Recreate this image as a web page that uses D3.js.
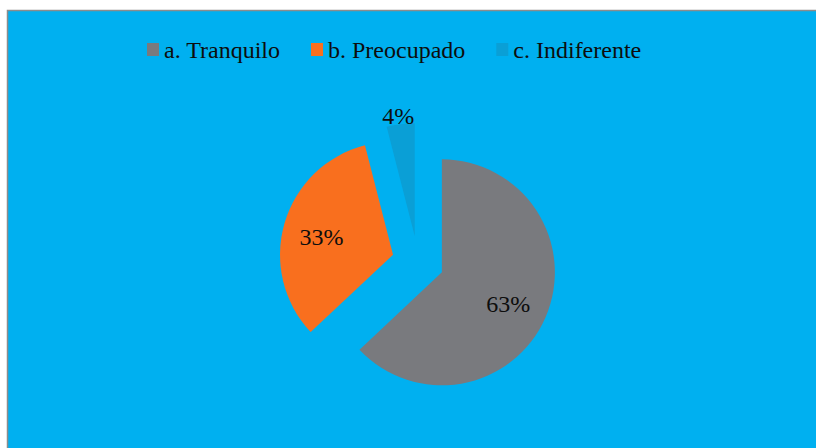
<!DOCTYPE html>
<html>
<head>
<meta charset="utf-8">
<script src="https://cdn.jsdelivr.net/npm/d3@7"></script>
<style>
  html, body { margin: 0; padding: 0; background: #fff; }
  svg { display: block; }
  text { font-family: "Liberation Serif", "Times New Roman", serif; fill: #0d0d0d; }
</style>
</head>
<body>
<div id="chart"></div>
<script>
// data
const categories = ["a. Tranquilo", "b. Preocupado", "c. Indiferente"];
const shares = [63, 33, 4];
const colors = ["#797a7e", "#f96f1e", "#0a9fd6"];

const width = 816, height = 448;
const cx = 418, cy = 262, radius = 113, explode = 26;

const svg = d3.select("#chart").append("svg")
    .attr("width", width)
    .attr("height", height);

// chart area (extends past right / bottom edge)
svg.append("rect")
    .attr("x", 7.5)
    .attr("y", 10.5)
    .attr("width", width)
    .attr("height", height)
    .attr("fill", "#00b0f0")
    .attr("stroke", "#8c8c8c")
    .attr("stroke-width", 1.5);

const color = d3.scaleOrdinal().domain(categories).range(colors);

const pie = d3.pie().sort(null).value(d => d.value);
const arcs = pie(categories.map((c, i) => ({ name: c, value: shares[i] })));
const total = d3.sum(shares);

const arc = d3.arc().innerRadius(0).outerRadius(radius);

const g = svg.append("g").attr("transform", `translate(${cx},${cy})`);

const slice = g.selectAll(".slice")
    .data(arcs)
    .enter().append("g")
        .attr("class", "slice")
        .attr("transform", d => {
            const mid = (d.startAngle + d.endAngle) / 2;
            return `translate(${Math.sin(mid) * explode}, ${-Math.cos(mid) * explode})`;
        });

slice.append("path")
    .attr("d", arc)
    .style("fill", d => color(d.data.name));

slice.append("text")
    .attr("text-anchor", "middle")
    .attr("dy", "0.45em")
    .style("font-size", "24px")
    .attr("transform", d => {
        const mid = (d.startAngle + d.endAngle) / 2;
        // small slices get their label outside, like Excel's best fit
        const r = d.value / total < 0.1 ? radius * 1.1 : radius * 0.65;
        return `translate(${Math.sin(mid) * r - 1}, ${-Math.cos(mid) * r})`;
    })
    .text(d => Math.round(d.value / total * 100) + "%");

// legend
const legend = svg.append("g").attr("transform", "translate(147, 50)");
let x = 0;
categories.forEach((c, i) => {
    const item = legend.append("g").attr("transform", `translate(${x},0)`);
    item.append("rect")
        .attr("x", 0)
        .attr("y", -7)
        .attr("width", 12)
        .attr("height", 13)
        .style("fill", colors[i]);
    const t = item.append("text")
        .attr("x", 17)
        .attr("dy", "0.35em")
        .style("font-size", "24px")
        .text(c);
    x += 17 + t.node().getComputedTextLength() + 31;
});
</script>
</body>
</html>
